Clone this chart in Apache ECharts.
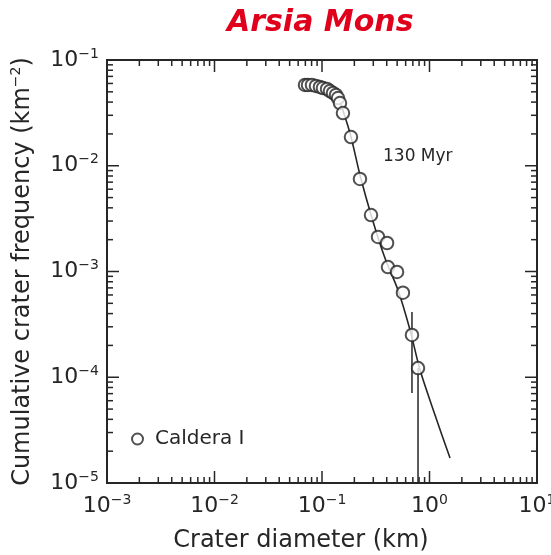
<!DOCTYPE html>
<html>
<head>
    <meta charset="utf-8">
    <title>Arsia Mons</title>
    <script src="https://cdn.jsdelivr.net/npm/echarts@6/dist/echarts.min.js"></script>
    <style>
        html, body { margin: 0; padding: 0; background: #fff; }
    </style>
</head>
<body>
<div id="main" style="width: 551px;height:555px;"></div>
<script type="text/javascript">
    // crater diameter (km) and cumulative frequency (km^-2), Caldera I
    var diam = [0.0695, 0.0741, 0.0807, 0.0879, 0.0957, 0.102, 0.1114, 0.1186, 0.1265, 0.135, 0.141, 0.147,
        0.1567, 0.186, 0.2255, 0.2857, 0.332, 0.403, 0.411, 0.499, 0.566, 0.687, 0.782];
    var freq = [0.0581, 0.0581, 0.0581, 0.0568, 0.0556, 0.0543, 0.0532, 0.0509, 0.0488, 0.0467, 0.0437, 0.0392,
        0.0315, 0.0187, 0.0075, 0.00342, 0.00212, 0.00186, 0.0011, 0.00099, 0.00063, 0.000251, 0.000122];

    // 130 Myr isochron
    var fitD = [0.135, 0.182, 0.2255, 0.2916, 0.385, 0.509, 0.659, 0.817, 1.125, 1.552];
    var fitF = [0.052, 0.0204, 0.00818, 0.00321, 0.00134, 0.000668, 0.00028, 0.000117, 0.000044, 0.0000172];

    // error bars
    var errD = [0.687, 0.782];
    var errLo = [0.000071, 0.00001];
    var errHi = [0.000414, 0.000122];

    // decade ticks inside the frame, and the 2..9 sub ticks
    var xDecades = [0.01, 0.1, 1];
    var yDecades = [0.0001, 0.001, 0.01];
    var xBase = [0.001, 0.01, 0.1, 1];
    var yBase = [0.00001, 0.0001, 0.001, 0.01];
    var mults = [2, 3, 4, 5, 6, 7, 8, 9];

    var X0 = 0.001, X1 = 10, Y0 = 0.00001, Y1 = 0.1;
    var MAJ = 12, MIN = 6;

    var xTickData = xDecades.map(function (v) { return [v, 0.001, MAJ]; });
    xBase.forEach(function (d) { mults.forEach(function (m) { xTickData.push([d * m, 0.001, MIN]); }); });
    var yTickData = yDecades.map(function (v) { return [0.1, v, MAJ]; });
    yBase.forEach(function (d) { mults.forEach(function (m) { yTickData.push([0.1, d * m, MIN]); }); });

    var font = 'DejaVu Sans';
    var ink = '#262626';

    function powLabel(v) {
        var e = Math.round(Math.log10(v));
        return '{b|10}{s|' + (e < 0 ? '\u2212' + (-e) : e) + '}';
    }
    var richTick = {
        b: { fontSize: 22, fontFamily: font, color: ink, lineHeight: 26 },
        s: { fontSize: 14, fontFamily: font, color: ink, verticalAlign: 'top', lineHeight: 14 }
    };

    var myChart = echarts.init(document.getElementById('main'));

    var option = {
        backgroundColor: '#fff',
        animation: false,
        title: {
            text: 'Arsia Mons',
            left: 222,
            top: 3,
            textStyle: { color: '#e0001b', fontSize: 30, fontWeight: 'bold', fontStyle: 'italic', fontFamily: font }
        },
        legend: {
            data: ['Caldera I'],
            left: 131,
            top: 429,
            padding: 0,
            itemWidth: 11,
            itemHeight: 11,
            textStyle: { fontSize: 20, fontFamily: font, color: ink, padding: [0, 0, 0, 7] }
        },
        grid: {
            left: 107, right: 14, top: 60, bottom: 72,
            outerBoundsMode: 'none',
            show: true, borderColor: ink, borderWidth: 2, backgroundColor: 'transparent'
        },
        xAxis: {
            type: 'log',
            logBase: 10,
            min: X0, max: X1,
            name: 'Crater diameter (km)',
            nameLocation: 'middle',
            nameGap: 46,
            nameTextStyle: { fontSize: 24, fontFamily: font, color: ink, padding: [0, 42, 0, 0] },
            axisLine: { show: true, lineStyle: { color: ink, width: 2 } },
            axisTick: { show: false },
            splitLine: { show: false },
            axisLabel: { margin: 10, formatter: powLabel, rich: richTick }
        },
        yAxis: {
            type: 'log',
            logBase: 10,
            min: Y0, max: Y1,
            name: '{a|Cumulative crater frequency (km}{s|\u22122}{a|)}',
            nameLocation: 'middle',
            nameGap: 71,
            nameRotate: 90,
            nameTextStyle: {
                rich: {
                    a: { fontSize: 24, fontFamily: font, color: ink, lineHeight: 27 },
                    s: { fontSize: 14, fontFamily: font, color: ink, verticalAlign: 'top', lineHeight: 14 }
                }
            },
            axisLine: { show: true, lineStyle: { color: ink, width: 2 } },
            axisTick: { show: false },
            splitLine: { show: false },
            axisLabel: { margin: 8, formatter: powLabel, rich: richTick }
        },
        graphic: [{
            type: 'text',
            left: 383,
            top: 148,
            style: { text: '130 Myr', fontSize: 17, fontFamily: font, fill: ink }
        }],
        series: [
            {
                name: 'isochron',
                type: 'line',
                data: fitD.map(function (d, i) { return [d, fitF[i]]; }),
                smooth: 0.3,
                showSymbol: false,
                lineStyle: { color: ink, width: 1.6 },
                z: 2
            },
            {
                name: 'errors',
                type: 'custom',
                data: errD.map(function (d, i) { return [d, errLo[i], errHi[i]]; }),
                renderItem: function (params, api) {
                    var a = api.coord([api.value(0), api.value(1)]);
                    var b = api.coord([api.value(0), api.value(2)]);
                    return {
                        type: 'line',
                        shape: { x1: a[0], y1: a[1], x2: b[0], y2: b[1] },
                        style: { stroke: ink, lineWidth: 1.5 }
                    };
                },
                silent: true,
                z: 2
            },
            {
                name: 'Caldera I',
                type: 'scatter',
                data: diam.map(function (d, i) { return [d, freq[i]]; }),
                symbol: 'emptyCircle',
                symbolSize: 12.5,
                itemStyle: { color: ink, borderColor: ink, borderWidth: 1.8 },
                z: 3
            },
            {
                // ticks on bottom and top edges
                name: 'xTicks',
                type: 'custom',
                data: xTickData,
                silent: true,
                renderItem: function (params, api) {
                    var cs = params.coordSys;
                    var x = api.coord([api.value(0), api.value(1)])[0];
                    var len = api.value(2);
                    var yb = cs.y + cs.height, yt = cs.y;
                    return {
                        type: 'group',
                        children: [
                            { type: 'line', shape: { x1: x, y1: yb, x2: x, y2: yb - len }, style: { stroke: ink, lineWidth: 1.5 } },
                            { type: 'line', shape: { x1: x, y1: yt, x2: x, y2: yt + len }, style: { stroke: ink, lineWidth: 1.5 } }
                        ]
                    };
                },
                z: 4
            },
            {
                // ticks on left and right edges
                name: 'yTicks',
                type: 'custom',
                data: yTickData,
                silent: true,
                renderItem: function (params, api) {
                    var cs = params.coordSys;
                    var y = api.coord([api.value(0), api.value(1)])[1];
                    var len = api.value(2);
                    var xl = cs.x, xr = cs.x + cs.width;
                    return {
                        type: 'group',
                        children: [
                            { type: 'line', shape: { x1: xl, y1: y, x2: xl + len, y2: y }, style: { stroke: ink, lineWidth: 1.5 } },
                            { type: 'line', shape: { x1: xr, y1: y, x2: xr - len, y2: y }, style: { stroke: ink, lineWidth: 1.5 } }
                        ]
                    };
                },
                z: 4
            }
        ]
    };

    myChart.setOption(option);
</script>
</body>
</html>
